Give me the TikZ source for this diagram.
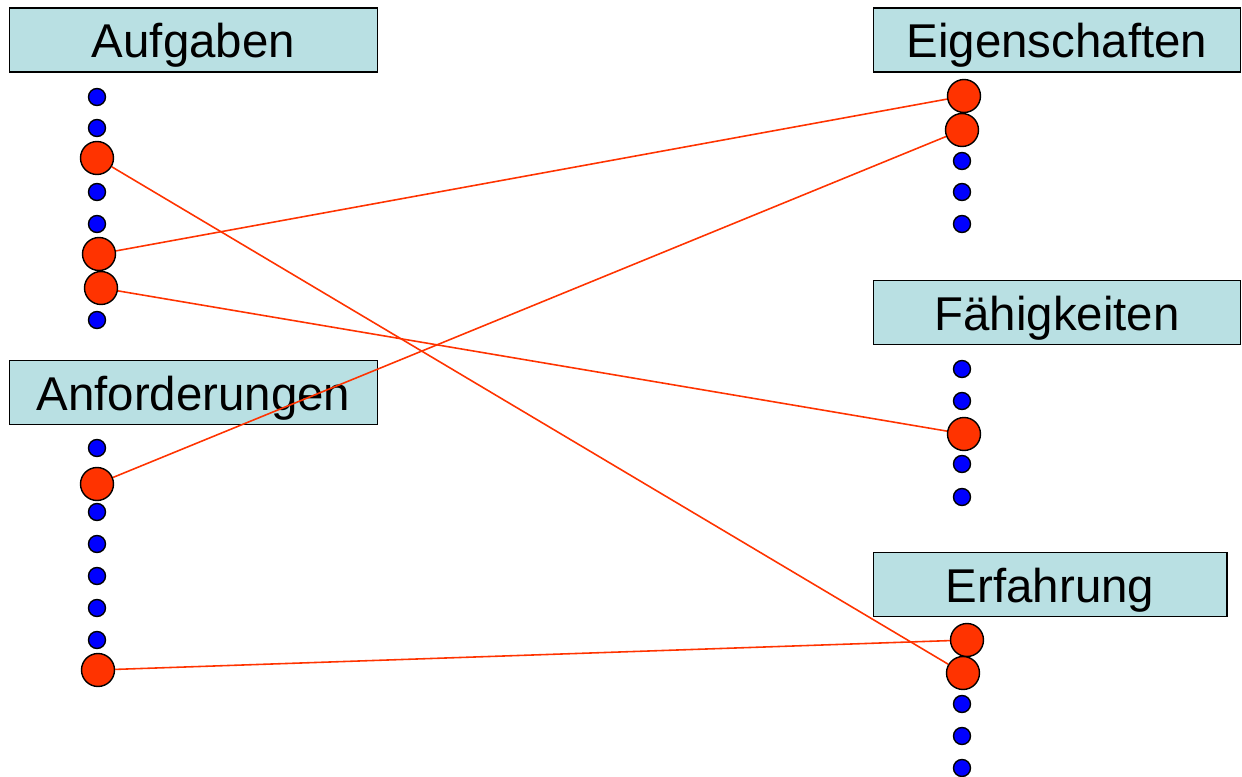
\documentclass[tikz,border=0pt]{standalone}
\usepackage{fontspec}
\setmainfont{Liberation Sans}
\usepackage{tikz}

\definecolor{boxfill}{RGB}{185,224,227}
\definecolor{dotred}{RGB}{255,51,0}
\definecolor{dotblue}{RGB}{0,0,255}

\tikzset{
    titlebox/.style={draw=black, fill=boxfill, line width=0.6pt, minimum height=1.28cm, inner sep=0pt, text height=25.7pt, text depth=5.4pt, font=\fontsize{27}{30}\selectfont},
    small/.style={circle, draw=black, fill=dotblue, line width=0.8pt, minimum size=0.34cm, inner sep=0pt},
    big/.style={circle, draw=black, fill=dotred, line width=0.8pt, minimum size=0.66cm, inner sep=0pt},
    link/.style={dotred, line width=0.9pt}
}

\begin{document}
\begin{tikzpicture}[x=0.02cm, y=-0.02cm]
        \useasboundingbox (0, 0) rectangle (1242, 777);

        % headings
        \node[titlebox, minimum width=7.38cm] (auf) at (193.5, 40) {Aufgaben};
        \node[titlebox, minimum width=7.38cm] (anf) at (193.5, 392.5) {Anforderungen};
        \node[titlebox, minimum width=7.36cm] (eig) at (1057, 40) {Eigenschaften};
        \node[titlebox, minimum width=7.36cm] (fae) at (1057, 312.5) {Fähigkeiten};
        \node[titlebox, minimum width=7.08cm] (erf) at (1050, 584.5) {Erfahrung};

        % Aufgaben
        \node[small] (a1) at (97, 97) {};
        \node[small] (a2) at (97, 128) {};
        \node[big] (a3) at (97, 158) {};
        \node[small] (a4) at (97, 192) {};
        \node[small] (a5) at (97, 224) {};
        \node[big] (a6) at (99, 254) {};
        \node[big] (a7) at (101, 288) {};
        \node[small] (a8) at (97, 320) {};

        % Anforderungen
        \node[small] (b1) at (97, 448) {};
        \node[big] (b2) at (97, 484) {};
        \node[small] (b3) at (97, 512) {};
        \node[small] (b4) at (97, 544) {};
        \node[small] (b5) at (97, 576) {};
        \node[small] (b6) at (97, 608) {};
        \node[small] (b7) at (97, 640) {};
        \node[big] (b8) at (98, 670) {};

        % Eigenschaften
        \node[big] (c1) at (964, 96) {};
        \node[big] (c2) at (962, 130) {};
        \node[small] (c3) at (962, 161) {};
        \node[small] (c4) at (962, 192) {};
        \node[small] (c5) at (962, 224) {};

        % Faehigkeiten
        \node[small] (d1) at (962, 369) {};
        \node[small] (d2) at (962, 401) {};
        \node[big] (d3) at (964, 434) {};
        \node[small] (d4) at (962, 464) {};
        \node[small] (d5) at (962, 497) {};

        % Erfahrung
        \node[big] (e1) at (967, 640) {};
        \node[big] (e2) at (963, 673) {};
        \node[small] (e3) at (962, 704) {};
        \node[small] (e4) at (962, 736) {};
        \node[small] (e5) at (962, 768) {};

        \draw[link] (a3) -- (e2);
        \draw[link] (a6) -- (c1);
        \draw[link] (a7) -- (d3);
        \draw[link] (b2) -- (c2);
        \draw[link] (b8) -- (e1);
    \end{tikzpicture}
\end{document}
